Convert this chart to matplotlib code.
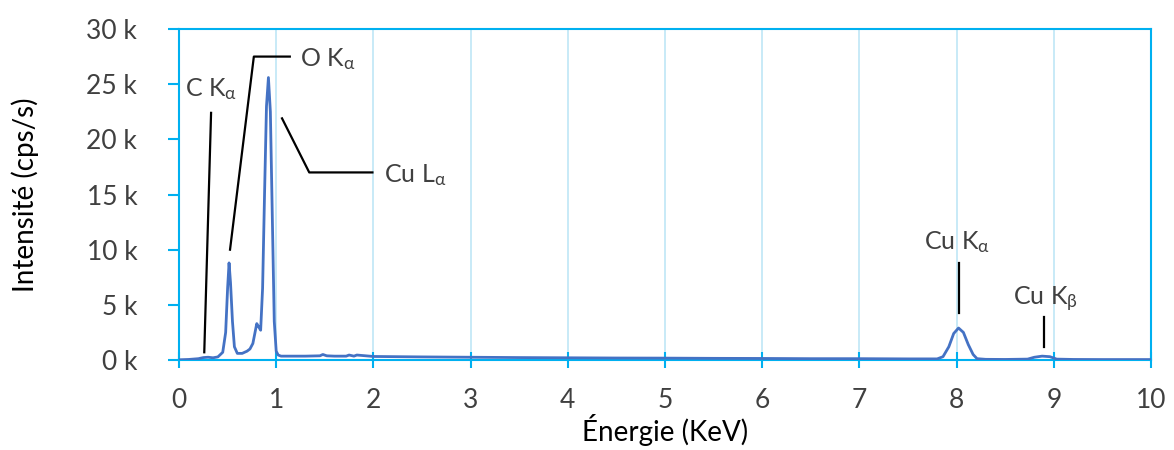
import matplotlib.pyplot as plt
from matplotlib.ticker import MultipleLocator, FuncFormatter

plt.rcParams['font.family'] = ['Lato', 'DejaVu Sans']
plt.rcParams['mathtext.fontset'] = 'custom'
plt.rcParams['mathtext.rm'] = 'Lato'
plt.rcParams['mathtext.it'] = 'Lato'

# ============== spectre EDS ==============
energie = [0.0, 0.1, 0.2, 0.25, 0.3, 0.35, 0.4, 0.45, 0.48, 0.5, 0.515, 0.53, 0.55, 0.57,
           0.6, 0.65, 0.7, 0.73, 0.76, 0.78, 0.80, 0.82, 0.84, 0.86, 0.88, 0.90, 0.92,
           0.94, 0.96, 0.98, 1.0, 1.02, 1.05, 1.1, 1.2, 1.3, 1.45, 1.48, 1.52, 1.6,
           1.72, 1.75, 1.8, 1.83, 2.0, 2.5, 3.0, 3.5, 4.0, 4.5, 5.0, 5.5, 6.0, 6.5,
           7.0, 7.5, 7.8, 7.86, 7.92, 7.97, 8.02, 8.07, 8.12, 8.17, 8.21, 8.3, 8.5,
           8.73, 8.8, 8.88, 8.96, 9.03, 9.2, 9.5, 10.0]
intensite = [0.02, 0.05, 0.12, 0.22, 0.25, 0.2, 0.28, 0.7, 2.5, 6.5, 8.8, 7.0, 3.5, 1.2,
             0.6, 0.6, 0.8, 1.0, 1.5, 2.4, 3.3, 3.0, 2.7, 6.5, 15.0, 23.0, 25.6,
             22.5, 13.0, 3.5, 0.8, 0.45, 0.35, 0.35, 0.35, 0.35, 0.38, 0.5, 0.38, 0.35,
             0.35, 0.45, 0.35, 0.45, 0.32, 0.28, 0.25, 0.22, 0.2, 0.18, 0.17, 0.15, 0.14, 0.12,
             0.12, 0.1, 0.1, 0.3, 1.2, 2.4, 2.9, 2.5, 1.4, 0.5, 0.12, 0.06, 0.05,
             0.08, 0.25, 0.35, 0.3, 0.08, 0.05, 0.04, 0.04]

# annotations : texte, position du texte, trace de la ligne de rappel
raies = ['C K$_\\mathrm{\\alpha}$', 'O K$_\\mathrm{\\alpha}$', 'Cu L$_\\mathrm{\\alpha}$',
         'Cu K$_\\mathrm{\\alpha}$', 'Cu K$_\\mathrm{\\beta}$']
texte_xy = [(0.06, 24.6), (1.25, 27.3), (2.11, 16.8), (8.0, 10.7), (8.91, 5.5)]
texte_ha = ['left', 'left', 'left', 'center', 'center']
ligne_x = [[0.33, 0.26], [0.525, 0.77, 1.14], [1.06, 1.34, 1.99], [8.02, 8.02], [8.9, 8.9]]
ligne_y = [[22.4, 0.7], [10.0, 27.5, 27.5], [21.9, 17.0, 17.0], [8.8, 4.3], [3.9, 1.2]]

bleu_axe = '#00B0F0'
bleu_grille = '#BFE6F6'
gris = '#404040'

fig = plt.figure(figsize=(11.74, 4.5), dpi=100)
ax = fig.add_axes([179 / 1174, (450 - 360) / 450, (1151 - 179) / 1174, (360 - 29) / 450])

ax.plot(energie, intensite, color='#4472C4', lw=2, zorder=3)

for txt, (tx, ty), ha, lx, ly in zip(raies, texte_xy, texte_ha, ligne_x, ligne_y):
    ax.plot(lx, ly, color='black', lw=1.6, zorder=4)
    ax.text(tx, ty, txt, ha=ha, va='center', fontsize=18, color=gris)

ax.set_xlim(0, 10)
ax.set_ylim(0, 30)
ax.xaxis.set_major_locator(MultipleLocator(1))
ax.yaxis.set_major_locator(MultipleLocator(5))
ax.yaxis.set_major_formatter(FuncFormatter(lambda v, p: '%d k' % v))
ax.grid(axis='x', color=bleu_grille, lw=1.2, zorder=0)
for s in ax.spines.values():
    s.set_color(bleu_axe)
    s.set_linewidth(1.5)
ax.tick_params(axis='x', direction='inout', length=12, color=bleu_axe, width=1.5,
               labelsize=19, labelcolor=gris, pad=14)
ax.tick_params(axis='y', direction='out', length=8, color=bleu_axe, width=1.5,
               labelsize=19, labelcolor=gris, pad=22)

ax.set_xlabel('Énergie (KeV)', fontsize=20, color='black', labelpad=1)
ax.set_ylabel('Intensité (cps/s)', fontsize=20, color='black', labelpad=34)

fig.savefig('out.png', dpi=100)
